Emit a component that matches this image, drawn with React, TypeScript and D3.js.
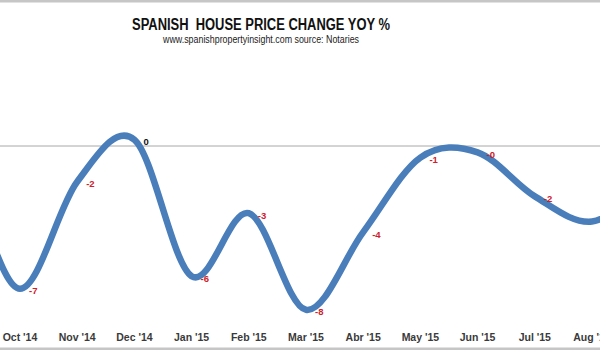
import React, { useRef, useEffect } from "react";
import * as d3 from "d3";

// months on the category axis (Aug '14, Sep '14 and Sep '15 fall outside the cropped view)
const months = [
  "Aug '14", "Sep '14", "Oct '14", "Nov '14", "Dec '14", "Jan '15", "Feb '15",
  "Mar '15", "Abr '15", "May '15", "Jun '15", "Jul '15", "Aug '15", "Sep '15",
];
// yoy % change
const yoyValues = [-3, -1.7, -6.8, -1.7, 0.3, -6.2, -3.2, -7.8, -4.1, -0.55, -0.3, -2.4, -3.6, -1.8];
// labels shown next to each point
const pointLabels = ["-3", "-2", "-7", "-2", "0", "-6", "-3", "-8", "-4", "-1", "-0", "-2", "-4", "-2"];

const W = 600;
const H = 350;

export default function App() {
  const svgRef = useRef<SVGSVGElement>(null);

  useEffect(() => {
    const svg = d3.select(svgRef.current);
    svg.selectAll("*").remove();

    // x: one step per month, Oct '14 sits near the left edge
    const step = 57.2;
    const x = d3
      .scalePoint<string>()
      .domain(months)
      .range([20 - 2 * step, 20 + 11 * step]);

    // y: zero line at 146, roughly 21px per point
    const y = d3.scaleLinear().domain([0, -8]).range([146, 314]);

    // only the months that land inside the cropped picture get text
    const visible = (m: string) => {
      const px = x(m) as number;
      return px > 0 && px < W + 10;
    };

    // frame bands top and bottom
    svg.append("rect").attr("x", 0).attr("y", 0).attr("width", W).attr("height", 2.5).attr("fill", "#c6c6c6");
    svg.append("rect").attr("x", 0).attr("y", 347.5).attr("width", W).attr("height", 3).attr("fill", "#c6c6c6");

    // title
    svg
      .append("text")
      .attr("x", 261)
      .attr("y", 30)
      .attr("text-anchor", "middle")
      .attr("font-family", "Liberation Sans, Arial, sans-serif")
      .attr("font-weight", 700)
      .attr("font-size", 16)
      .attr("fill", "#111")
      .attr("textLength", 258)
      .attr("lengthAdjust", "spacingAndGlyphs")
      .style("white-space", "pre")
      .text("SPANISH  HOUSE PRICE CHANGE YOY %");
    svg
      .append("text")
      .attr("x", 261)
      .attr("y", 43)
      .attr("text-anchor", "middle")
      .attr("font-family", "Liberation Sans, Arial, sans-serif")
      .attr("font-size", 10.5)
      .attr("fill", "#222")
      .attr("textLength", 196)
      .attr("lengthAdjust", "spacingAndGlyphs")
      .text("www.spanishpropertyinsight.com source: Notaries");

    // zero axis line
    svg
      .append("line")
      .attr("x1", 0)
      .attr("x2", W)
      .attr("y1", y(0))
      .attr("y2", y(0))
      .attr("stroke", "#a8a8a8")
      .attr("stroke-width", 1);

    // category labels at the bottom
    svg
      .append("g")
      .selectAll("text")
      .data(months.filter(visible))
      .enter()
      .append("text")
      .attr("x", (d) => x(d) as number)
      .attr("y", 341)
      .attr("text-anchor", "middle")
      .attr("font-family", "Liberation Sans, Arial, sans-serif")
      .attr("font-weight", 700)
      .attr("font-size", 10.5)
      .attr("fill", "#3a3a3a")
      .text((d) => d);

    // smoothed line
    const line = d3
      .line<number>()
      .x((_, i) => x(months[i]) as number)
      .y((d) => y(d))
      .curve(d3.curveCatmullRom.alpha(0));

    svg
      .append("path")
      .attr("d", line(yoyValues))
      .attr("fill", "none")
      .attr("stroke", "#4a7ebb")
      .attr("stroke-width", 6.5)
      .attr("stroke-linecap", "round")
      .attr("stroke-linejoin", "round");

    // data labels, right of each point
    const labelIdx = months.map((m, i) => i).filter((i) => visible(months[i]) && (x(months[i]) as number) + 9 < W - 4);
    svg
      .append("g")
      .selectAll("text")
      .data(labelIdx)
      .enter()
      .append("text")
      .attr("x", (i) => (x(months[i]) as number) + 9)
      .attr("y", (i) => y(yoyValues[i]) + 5.5)
      .attr("font-family", "Liberation Sans, Arial, sans-serif")
      .attr("font-weight", 700)
      .attr("font-size", 9.5)
      .attr("fill", (i) => (yoyValues[i] < 0 ? "#d0202a" : "#111"))
      .text((i) => pointLabels[i]);
  }, []);

  return (
    <svg
      ref={svgRef}
      width={W}
      height={H}
      style={{ position: "absolute", left: 0, top: 0, background: "#fff" }}
    />
  );
}
